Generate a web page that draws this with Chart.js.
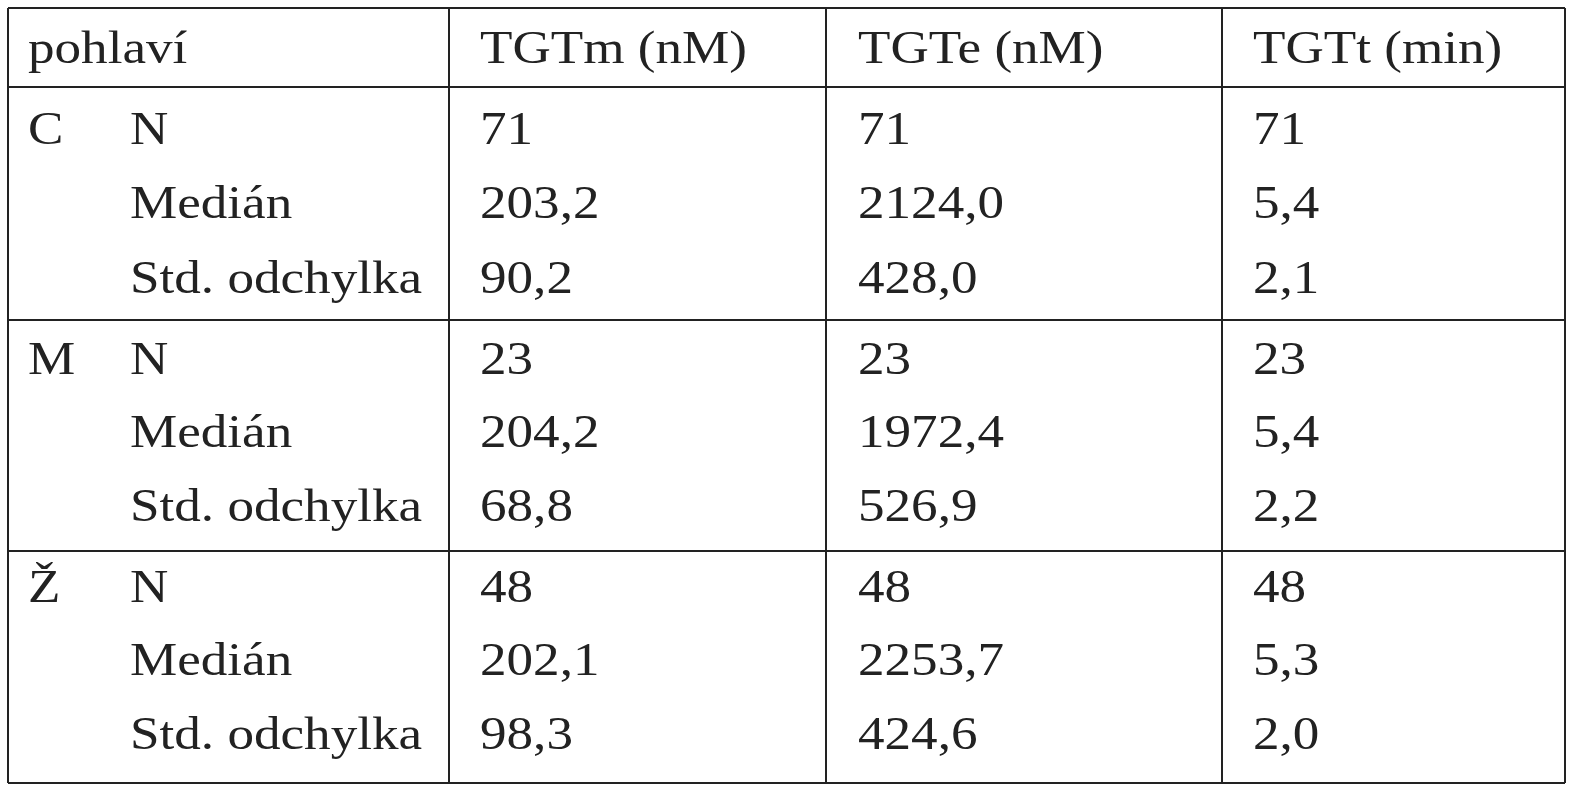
<!DOCTYPE html>
<html>
<head>
<meta charset="utf-8">
<script src="https://cdn.jsdelivr.net/npm/chart.js@4"></script>
<style>
  html, body { margin: 0; padding: 0; background: #fff; }
  #wrap { width: 1577px; height: 800px; }
</style>
</head>
<body>
<div id="wrap"><canvas id="tableChart"></canvas></div>
<script>
const headers = ['pohlaví', 'TGTm (nM)', 'TGTe (nM)', 'TGTt (min)'];
const groups = ['C', 'M', 'Ž'];
const stats = ['N', 'Medián', 'Std. odchylka'];
const tgtm = ['71', '203,2', '90,2', '23', '204,2', '68,8', '48', '202,1', '98,3'];
const tgte = ['71', '2124,0', '428,0', '23', '1972,4', '526,9', '48', '2253,7', '424,6'];
const tgtt = ['71', '5,4', '2,1', '23', '5,4', '2,2', '48', '5,3', '2,0'];

// grid in the chart's own value units (x: 0..1577, y: 0..800)
const colLines = [449, 826, 1222];
const rowLines = [8, 87, 320, 551, 783];
const rowCenters = [132, 206, 281, 362, 435, 509, 590, 663, 737];
const colX = [480, 858, 1253];

const tablePlugin = {
  id: 'tablePlugin',
  afterDraw(chart) {
    const ctx = chart.ctx;
    const xs = chart.scales.x, ys = chart.scales.y;
    const px = v => xs.getPixelForValue(v);
    const py = v => ys.getPixelForValue(v);
    const text = (s, x, y) => {
      ctx.save();
      ctx.translate(px(x), py(y));
      ctx.scale(1.13, 1);
      ctx.fillText(s, 0, 0);
      ctx.restore();
    };
    ctx.save();
    ctx.strokeStyle = '#222';
    ctx.lineWidth = 2;
    rowLines.forEach(r => {
      ctx.beginPath(); ctx.moveTo(px(8), py(r)); ctx.lineTo(px(1565), py(r)); ctx.stroke();
    });
    [8, 1565].forEach(c => {
      ctx.beginPath(); ctx.moveTo(px(c), py(8)); ctx.lineTo(px(c), py(783)); ctx.stroke();
    });
    colLines.forEach(c => {
      ctx.beginPath(); ctx.moveTo(px(c), py(8)); ctx.lineTo(px(c), py(783)); ctx.stroke();
    });
    ctx.fillStyle = '#222';
    ctx.font = '47px "Liberation Serif", "DejaVu Serif", serif';
    ctx.textBaseline = 'middle';
    ctx.textAlign = 'left';
    text(headers[0], 28, 51);
    headers.slice(1).forEach((h, i) => text(h, colX[i], 51));
    rowCenters.forEach((y, i) => {
      if (i % 3 === 0) text(groups[i / 3], 28, y);
      text(stats[i % 3], 130, y);
      text(tgtm[i], colX[0], y);
      text(tgte[i], colX[1], y);
      text(tgtt[i], colX[2], y);
    });
    ctx.restore();
  }
};

new Chart(document.getElementById('tableChart'), {
  type: 'scatter',
  data: { datasets: [{ data: [], pointRadius: 0 }] },
  options: {
    responsive: true,
    maintainAspectRatio: false,
    animation: false,
    layout: { padding: 0 },
    plugins: { legend: { display: false }, tooltip: { enabled: false } },
    scales: {
      x: { type: 'linear', min: 0, max: 1577, display: false },
      y: { type: 'linear', min: 0, max: 800, reverse: true, display: false }
    }
  },
  plugins: [tablePlugin]
});
</script>
</body>
</html>
